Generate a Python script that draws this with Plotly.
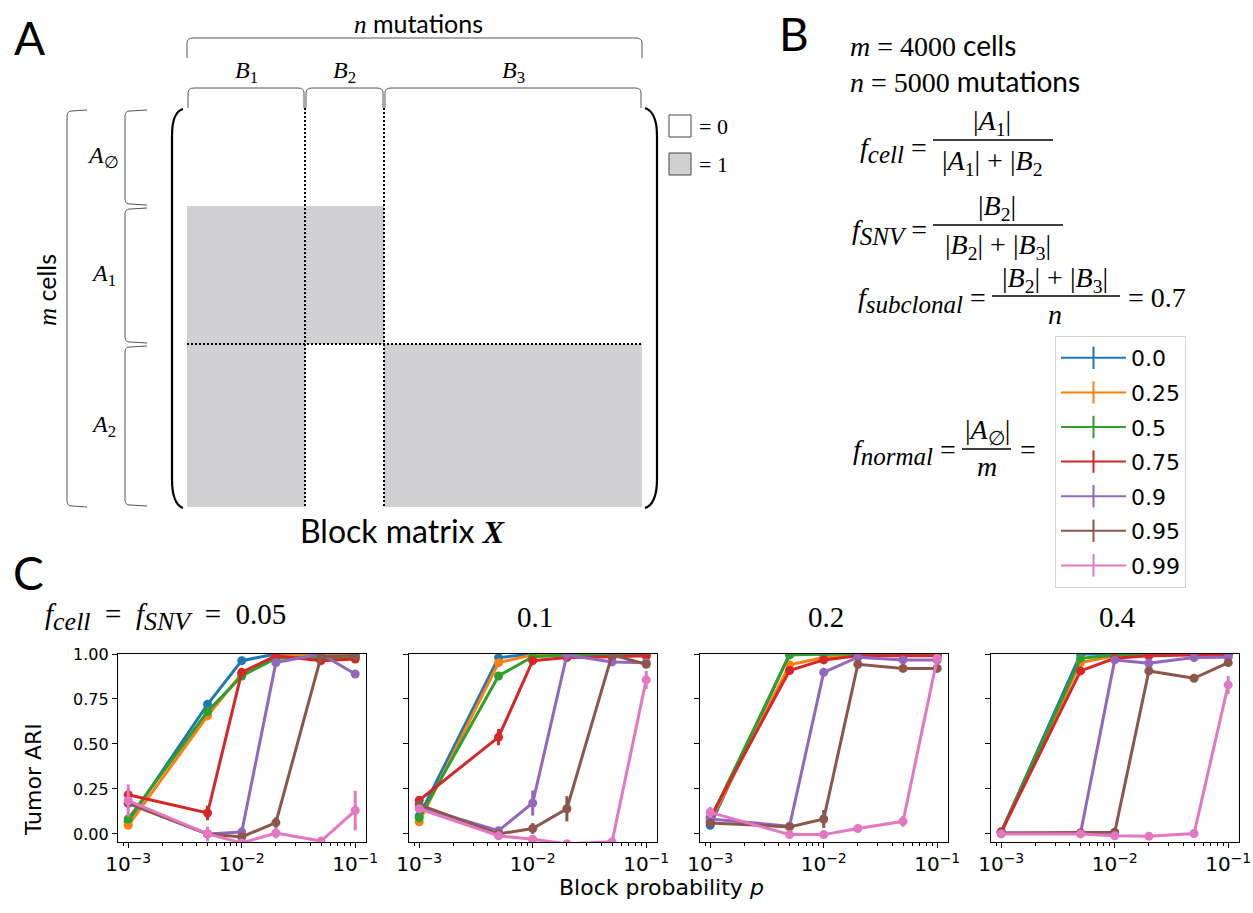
import plotly.graph_objects as go

# ---------------- data ----------------
P = [0.001, 0.005, 0.01, 0.02, 0.05, 0.1]          # block probability p
F_NORMAL = ["0.0", "0.25", "0.5", "0.75", "0.9", "0.95", "0.99"]
F_CELL = ["0.05", "0.1", "0.2", "0.4"]
Y_TICKS = [0, 0.25, 0.5, 0.75, 1.0]
Y_TICK_TEXT = ["0.00", "0.25", "0.50", "0.75", "1.00"]

# Tumor ARI, rows follow F_NORMAL, columns follow P
ari_f005 = [
    [0.07, 0.72, 0.963, 1.0, 1.0, 1.0],
    [0.048, 0.656, 0.89, 0.99, 0.99, 0.99],
    [0.083, 0.68, 0.878, 0.976, 0.98, 0.98],
    [0.218, 0.116, 0.898, 0.99, 0.963, 0.972],
    [0.17, 0.0, 0.01, 0.952, 1.0, 0.889],
    [0.17, 0.0, -0.017, 0.063, 0.985, 0.99],
    [0.185, 0.0, -0.05, 0.005, -0.04, 0.13],
]
err_f005 = [
    [0.01, 0.01, 0.01, 0.0, 0.0, 0.0],
    [0.01, 0.01, 0.01, 0.0, 0.0, 0.0],
    [0.01, 0.01, 0.01, 0.0, 0.0, 0.0],
    [0.02, 0.04, 0.01, 0.0, 0.005, 0.005],
    [0.02, 0.01, 0.01, 0.01, 0.0, 0.01],
    [0.01, 0.01, 0.01, 0.03, 0.005, 0.005],
    [0.09, 0.04, 0.02, 0.03, 0.01, 0.11],
]
ari_f01 = [
    [0.10, 0.98, 1.0, 1.0, 1.0, 1.0],
    [0.067, 0.952, 0.995, 1.0, 1.0, 1.0],
    [0.089, 0.878, 0.985, 0.995, 0.995, 0.99],
    [0.187, 0.538, 0.963, 0.98, 0.985, 0.99],
    [0.15, 0.018, 0.172, 0.995, 0.956, 0.952],
    [0.163, 0.0, 0.03, 0.14, 0.995, 0.943],
    [0.14, -0.01, -0.03, -0.055, -0.044, 0.856],
]
err_f01 = [
    [0.01, 0.01, 0.0, 0.0, 0.0, 0.0],
    [0.01, 0.01, 0.0, 0.0, 0.0, 0.0],
    [0.01, 0.01, 0.005, 0.0, 0.0, 0.0],
    [0.01, 0.045, 0.01, 0.005, 0.005, 0.005],
    [0.01, 0.01, 0.07, 0.005, 0.01, 0.01],
    [0.01, 0.01, 0.03, 0.07, 0.005, 0.01],
    [0.01, 0.01, 0.01, 0.01, 0.01, 0.05],
]
ari_f02 = [
    [0.048, 1.0, 1.0, 1.0, 1.0, 1.0],
    [0.07, 0.94, 0.98, 0.995, 0.995, 0.995],
    [0.08, 0.995, 1.0, 1.0, 1.0, 1.0],
    [0.09, 0.908, 0.967, 0.99, 0.99, 0.99],
    [0.083, 0.043, 0.898, 0.982, 0.967, 0.967],
    [0.061, 0.039, 0.083, 0.943, 0.92, 0.92],
    [0.12, -0.004, -0.004, 0.03, 0.07, 0.976],
]
err_f02 = [
    [0.01, 0.0, 0.0, 0.0, 0.0, 0.0],
    [0.01, 0.01, 0.005, 0.0, 0.0, 0.0],
    [0.01, 0.005, 0.0, 0.0, 0.0, 0.0],
    [0.01, 0.01, 0.005, 0.0, 0.0, 0.0],
    [0.01, 0.01, 0.01, 0.005, 0.005, 0.005],
    [0.01, 0.01, 0.05, 0.01, 0.01, 0.01],
    [0.03, 0.01, 0.01, 0.01, 0.03, 0.01],
]
ari_f04 = [
    [0.01, 1.0, 1.0, 1.0, 1.0, 1.0],
    [0.01, 0.952, 0.99, 1.0, 1.0, 1.0],
    [0.01, 0.976, 0.995, 1.0, 1.0, 1.0],
    [0.01, 0.906, 0.976, 0.99, 0.995, 0.995],
    [0.005, 0.005, 0.967, 0.948, 0.98, 0.982],
    [0.005, 0.005, 0.009, 0.906, 0.865, 0.952],
    [0.0, 0.0, -0.01, -0.013, 0.002, 0.828],
]
err_f04 = [
    [0.005, 0.0, 0.0, 0.0, 0.0, 0.0],
    [0.005, 0.01, 0.005, 0.0, 0.0, 0.0],
    [0.005, 0.01, 0.005, 0.0, 0.0, 0.0],
    [0.005, 0.01, 0.005, 0.0, 0.0, 0.0],
    [0.005, 0.005, 0.01, 0.01, 0.005, 0.005],
    [0.005, 0.005, 0.005, 0.01, 0.01, 0.01],
    [0.005, 0.005, 0.005, 0.005, 0.005, 0.05],
]
ARI = [ari_f005, ari_f01, ari_f02, ari_f04]
ERR = [err_f005, err_f01, err_f02, err_f04]

# block matrix pattern (rows A_empty, A1, A2; columns B1, B2, B3)
BLOCK = [[0, 0, 0], [1, 1, 0], [1, 0, 1]]
COL_SIZE = [118, 79, 258]   # schematic column block widths
ROW_SIZE = [98, 138, 163]   # schematic row block heights

# ---------------- style ----------------
W, H = 1253, 913
COLORS = ["#1f77b4", "#ff7f0e", "#2ca02c", "#d62728", "#9467bd", "#8c564b", "#e377c2"]
GREY = "#d0cfd2"
SERIF = "Liberation Serif"
SANS = "Lato"
MPL = "DejaVu Sans"

def px(x):
    return x / W

def py(y):
    return 1 - y / H

SUB_LEFT = [118, 409, 700, 991]
SUB_W = 248
SUB_TOP, SUB_BOT = 654, 842

fig = go.Figure()

# --- panel A block matrix (as heatmap on a pixel-space overlay axis) ---
MX0, MY0 = 187, 108
xe = [MX0]
for w in COL_SIZE:
    xe.append(xe[-1] + w)
ye = [MY0]
for h in ROW_SIZE:
    ye.append(ye[-1] + h)

fig.add_trace(go.Heatmap(
    z=BLOCK, x=xe, y=ye, colorscale=[[0, "white"], [1, GREY]], zmin=0, zmax=1,
    showscale=False, hoverinfo="skip", xaxis="x5", yaxis="y5"))

# --- panel C curves ---
for k in range(4):
    for i, lab in enumerate(F_NORMAL):
        c = COLORS[i]
        fig.add_trace(go.Scatter(
            x=P, y=ARI[k][i], mode="lines+markers",
            line=dict(color=c, width=3),
            marker=dict(color=c, size=9),
            error_y=dict(type="data", array=ERR[k][i], color=c, thickness=3, width=0),
            xaxis="x" + ("" if k == 0 else str(k + 1)),
            yaxis="y" + ("" if k == 0 else str(k + 1)),
            showlegend=False, cliponaxis=True))

# --- legend entries ---
for i, lab in enumerate(F_NORMAL):
    c = COLORS[i]
    fig.add_trace(go.Scatter(
        x=[None], y=[None], mode="lines+markers", name=lab, legendgroup=lab,
        line=dict(color=c, width=2),
        marker=dict(symbol="line-ns", size=22, color=c, line=dict(color=c, width=2)),
        xaxis="x5", yaxis="y5", showlegend=True))

layout = dict(
    width=W, height=H, margin=dict(l=0, r=0, t=0, b=0, autoexpand=False),
    paper_bgcolor="white", plot_bgcolor="rgba(0,0,0,0)",
    font=dict(family=MPL, color="black"),
    legend=dict(x=px(1055), y=py(336), xanchor="left", yanchor="top",
                bordercolor="#d4d4d4", borderwidth=1, bgcolor="white",
                font=dict(family=MPL, size=22, color="black"),
                tracegroupgap=3, itemwidth=65, itemsizing="trace"),
    xaxis5=dict(domain=[0, 1], range=[0, W], visible=False, fixedrange=True),
    yaxis5=dict(domain=[0, 1], range=[H, 0], visible=False, fixedrange=True),
)

for k in range(4):
    sx = "" if k == 0 else str(k + 1)
    layout["xaxis" + sx] = dict(
        domain=[px(SUB_LEFT[k]), px(SUB_LEFT[k] + SUB_W)], anchor="y" + sx,
        type="log", range=[-3.09, -0.905], dtick=1, exponentformat="power",
        showline=True, mirror=True, linecolor="black", linewidth=1.2,
        ticks="outside", ticklen=5, tickwidth=1, tickcolor="black",
        minor=dict(ticks="outside", ticklen=2.5, tickwidth=0.8, tickcolor="black", showgrid=False),
        showgrid=False, zeroline=False, automargin=False,
        tickfont=dict(family=MPL, size=16, color="black"))
    layout["yaxis" + sx] = dict(
        domain=[py(SUB_BOT), py(SUB_TOP)], anchor="x" + sx,
        range=[-0.045, 1.0], tickvals=Y_TICKS, ticktext=Y_TICK_TEXT,
        showticklabels=(k == 0),
        showline=True, mirror=True, linecolor="black", linewidth=1.2,
        ticks="outside", ticklen=5, tickwidth=1, tickcolor="black",
        showgrid=False, zeroline=False, automargin=False,
        tickfont=dict(family=MPL, size=16, color="black"))

fig.update_layout(**layout)

# ---------------- shapes ----------------
shapes = []

def path(d, color="black", width=2, dash=None):
    ln = dict(color=color, width=width)
    if dash:
        ln["dash"] = dash
    shapes.append(dict(type="path", path=d, xref="x5", yref="y5", line=ln))

def seg(x0, y0, x1, y1, color="black", width=2, dash=None):
    ln = dict(color=color, width=width)
    if dash:
        ln["dash"] = dash
    shapes.append(dict(type="line", x0=x0, y0=y0, x1=x1, y1=y1, xref="x5", yref="y5", line=ln))

# dotted block separators
for xv in xe[1:-1]:
    seg(xv, ye[0], xv, ye[-1], width=2, dash="2px,2px")
for yv in ye[2:3]:
    seg(xe[0], yv, xe[-1], yv, width=2, dash="2px,2px")

# matrix parentheses
L = xe[0] - 15
path(f"M {xe[0]-4},{ye[0]+1} Q {L},{ye[0]+4} {L},{ye[0]+28} L {L},{ye[-1]-28} Q {L},{ye[-1]-3} {xe[0]-4},{ye[-1]+1}", width=2.2)
R = xe[-1] + 15
path(f"M {xe[-1]+3},{ye[0]} Q {R},{ye[0]+4} {R},{ye[0]+28} L {R},{ye[-1]-28} Q {R},{ye[-1]-3} {xe[-1]+3},{ye[-1]+1}", width=2.2)

BR = "#555555"

def hbrace(xa, xb, ytop, yend):
    path(f"M {xa},{yend} L {xa},{ytop+5} Q {xa},{ytop} {xa+6},{ytop} L {xb-6},{ytop} Q {xb},{ytop} {xb},{ytop+5} L {xb},{yend}",
         color=BR, width=1)

def vbrace(xline, xend, ya, yb):
    path(f"M {xend},{ya} L {xline+5},{ya+1} Q {xline},{ya+1} {xline},{ya+6} L {xline},{yb-6} Q {xline},{yb-1} {xline+5},{yb-1} L {xend},{yb}",
         color=BR, width=1)

hbrace(xe[0], xe[-1], 38, 58)
for j in range(3):
    hbrace(xe[j] + 1, xe[j + 1] - 1, 88, 108)
vbrace(67, 87, ye[0] + 2, ye[-1])
for j in range(3):
    vbrace(125, 147, ye[j] + 2, ye[j + 1] - 1)

# value legend boxes
shapes.append(dict(type="rect", x0=669, x1=691, y0=115, y1=137, xref="x5", yref="y5",
                   fillcolor="white", line=dict(color="#444", width=1)))
shapes.append(dict(type="rect", x0=669, x1=691, y0=153, y1=175, xref="x5", yref="y5",
                   fillcolor=GREY, line=dict(color="#444", width=1)))

# fraction bars in panel B
seg(933, 140, 1053, 140, width=1.5)
seg(933, 225, 1063, 225, width=1.5)
seg(992, 296, 1120, 296, width=1.5)
seg(962, 449, 1011, 449, width=1.5)

fig.update_layout(shapes=shapes)

# ---------------- annotations ----------------
ann = []

def text(x, y, t, size, family=SERIF, xanchor="center", angle=0):
    ann.append(dict(x=x, y=y, xref="x5", yref="y5", text=t, showarrow=False,
                    xanchor=xanchor, yanchor="middle", textangle=angle,
                    font=dict(family=family, size=size, color="black")))

def sp(t, fam):
    return f"<span style='font-family:{fam}'>{t}</span>"

def fsub(name, size):
    return f"<i>f</i><sub><span style='font-size:{size}px'><i>{name}</i></span></sub>"

NB = "&nbsp;"
NB2 = "&nbsp;&nbsp;"

# panel letters
text(29, 37, "A", 46, SANS)
text(794, 33, "B", 46, SANS)
text(28, 572, "C", 46, SANS)

# panel A labels
text(418, 23, sp("<i>n</i>", SERIF) + " mutations", 25, SANS)
for j, lab in enumerate(["1", "2", "3"]):
    text((xe[j] + xe[j + 1]) / 2, 72, f"<i>B</i><sub>{lab}</sub>", 24, SERIF)
for j, lab in enumerate(["∅", "1", "2"]):
    text(103, (ye[j] + ye[j + 1]) / 2, f"<i>A</i><sub>{lab}</sub>", 24, SERIF)
text(46, 290, sp("<i>m</i>", SERIF) + " cells", 25, SANS, angle=-90)
text(402, 530, "Block matrix " + sp("<b><i>X</i></b>", SERIF), 32, SANS)
text(697, 126, "= 0", 22, SERIF, xanchor="left")
text(697, 164, "= 1", 22, SERIF, xanchor="left")

# panel B formulas
FS = 28
SS = 25
text(848, 45, "<i>m</i>" + NB + "=" + NB + "4000 " + sp("cells", SANS), FS, SERIF, xanchor="left")
text(848, 81, "<i>n</i>" + NB + "=" + NB + "5000 " + sp("mutations", SANS), FS, SERIF, xanchor="left")
text(929, 150, fsub("cell", SS) + NB + "=", FS, SERIF, xanchor="right")
text(992, 122, "|<i>A</i><sub>1</sub>|", FS, SERIF)
text(992, 162, "|<i>A</i><sub>1</sub>| + |<i>B</i><sub>2</sub>", FS, SERIF)
text(929, 232, fsub("SNV", SS) + NB + "=", FS, SERIF, xanchor="right")
text(997, 207, "|<i>B</i><sub>2</sub>|", FS, SERIF)
text(998, 246, "|<i>B</i><sub>2</sub>| + |<i>B</i><sub>3</sub>|", FS, SERIF)
text(988, 300, fsub("subclonal", SS) + NB + "=", FS, SERIF, xanchor="right")
text(1055, 279, "|<i>B</i><sub>2</sub>| + |<i>B</i><sub>3</sub>|", FS, SERIF)
text(1055, 314, "<i>n</i>", FS, SERIF)
text(1126, 297, "= 0.7", FS, SERIF, xanchor="left")
text(958, 452, fsub("normal", SS) + NB + "=", FS, SERIF, xanchor="right")
text(987, 431, "|<i>A</i><sub>∅</sub>|", FS, SERIF)
text(987, 466, "<i>m</i>", FS, SERIF)
text(1028, 449, "=", FS, SERIF)

# panel C titles and axis labels
text(288, 617, fsub("cell", 26) + NB2 + "=" + NB2 + fsub("SNV", 26) + NB2 + "=" + NB2 + F_CELL[0],
     29, SERIF, xanchor="right")
for k in range(1, 4):
    text(SUB_LEFT[k] + SUB_W / 2 + 2, 617, F_CELL[k], 29, SERIF)
text(33, 780, "Tumor ARI", 22, MPL, angle=-90)
text(661, 887, "Block probability <i>p</i>", 22, MPL)

fig.update_layout(annotations=ann)

fig.write_html("out.html", config={"displayModeBar": False},
               post_script="document.body.style.margin='0px';document.body.style.padding='0px';")
